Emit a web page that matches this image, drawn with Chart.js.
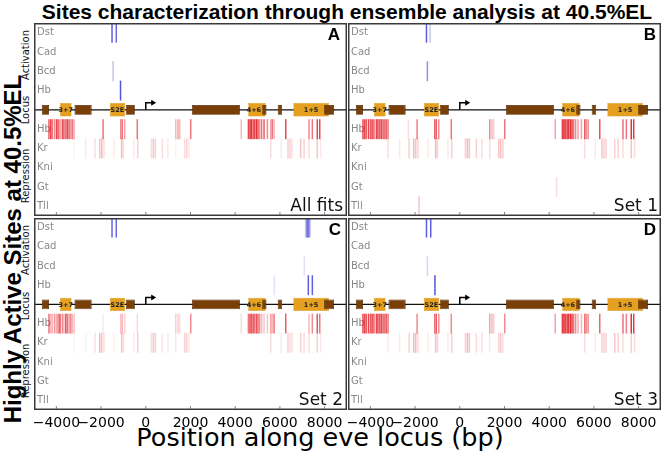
<!DOCTYPE html>
<html>
<head>
<meta charset="utf-8">
<script src="https://cdn.jsdelivr.net/npm/chart.js@4.4.1/dist/chart.umd.min.js"></script>
<style>
body { margin: 0; background: #fff; width: 664px; height: 457px; position: relative; overflow: hidden; font-family: "DejaVu Sans", sans-serif; }
canvas { position: absolute; }
.t { position: absolute; white-space: nowrap; line-height: 1; transform: translate(-50%, -50%); }
.r { transform: translate(-100%, -50%); }
.rot { transform: translate(-50%, -50%) rotate(-90deg); }
.grp { font-size: 10px; color: #111; }
.let { font-family: "Liberation Sans", sans-serif; font-weight: bold; font-size: 17px; }
.set { font-size: 17px; color: #111; }
</style>
</head>
<body>
<div class="t" style="left:347px;top:11px;font-family:'Liberation Sans',sans-serif;font-weight:bold;font-size:21px">Sites characterization through ensemble analysis at 40.5%EL</div>
<div class="t rot" style="left:13px;top:249px;font-family:'Liberation Sans',sans-serif;font-weight:bold;font-size:24px">Highly Active Sites at 40.5%EL</div>
<div class="t" style="left:320px;top:438px;font-size:25.5px">Position along eve locus (bp)</div>

<div class="t rot grp" style="left:26px;top:55px">Activation</div>
<div class="t rot grp" style="left:26px;top:110px">Locus</div>
<div class="t rot grp" style="left:26px;top:176px">Repression</div>
<div class="t rot grp" style="left:26px;top:250px">Activation</div>
<div class="t rot grp" style="left:26px;top:306px">Locus</div>
<div class="t rot grp" style="left:26px;top:371px">Repression</div>

<canvas id="pA" width="313" height="193" style="left:34px;top:23px"></canvas>
<canvas id="pB" width="313" height="193" style="left:348px;top:23px"></canvas>
<canvas id="pC" width="329" height="216" style="left:22px;top:218px"></canvas>
<canvas id="pD" width="329" height="216" style="left:336px;top:218px"></canvas>

<div class="t let" style="left:334px;top:34px">A</div>
<div class="t let" style="left:650px;top:34px">B</div>
<div class="t let" style="left:335px;top:229px">C</div>
<div class="t let" style="left:650px;top:229px">D</div>
<div class="t r set" style="left:343px;top:205px">All fits</div>
<div class="t r set" style="left:658px;top:205px">Set 1</div>
<div class="t r set" style="left:343px;top:399px">Set 2</div>
<div class="t r set" style="left:658px;top:399px">Set 3</div>

<script>
// rows of every panel (top to bottom)
var rowKeys = ['Dst', 'Cad', 'Bcd', 'HbAct', 'Locus', 'Hb', 'Kr', 'Kni', 'Gt', 'Tll'];
var rowNames = ['Dst', 'Cad', 'Bcd', 'Hb', '', 'Hb', 'Kr', 'Kni', 'Gt', 'Tll'];
var xTicks = [-4000, -2000, 0, 2000, 4000, 6000, 8000];

// eve locus structure (bp)
var geneBlocks = [[-4650, -4330], [-3190, -2420], [-900, -490], [2060, 4210], [5210, 5400], [5900, 6100], [7980, 8420]];
var enhancers = [[-3840, -3320], [-1610, -930], [4580, 5360], [6600, 8190]];
var enhancerNames = ['3+7', 'S2E', '4+6', '1+5'];

// Hb repressor sites and their weight in each panel
var hbSites = [-4330, -4250, -4180, -4080, -3990, -3920, -3840, -3730, -3660, -3580, -3510, -3430, -3360, -3290, -3210,
    -2300, -1910, -1120, -1050, -940, -380, 1340, 1440, 1520, 2010, 4270, 4590, 4660, 4720, 4800, 4870, 4950, 5020,
    5090, 5180, 5290, 5440, 5590, 5660, 5740, 6260, 7300, 7450, 7670, 7780];
var hbAlphaA = [0.7, 0.8, 0.6, 0.5, 0.8, 0.7, 0.5, 0.8, 0.7, 0.6, 0.8, 0.7, 0.4, 0.6, 0.4,
    0, 0.6, 0.5, 0.6, 0.4, 0.6, 0.3, 0.4, 0.3, 0.6, 0.3, 0.8, 0.8, 0.9, 0.8, 0.8, 0.9, 0.7,
    0.5, 0.6, 0.7, 0.5, 0.4, 0.6, 0.3, 0.8, 0.5, 0.6, 0.8, 0.8];
var hbAlphaB = [0.8, 0.8, 0.7, 0.8, 0.7, 0.8, 0.7, 0.8, 0.8, 0.7, 0.8, 0.7, 0.6, 0.7, 0.6,
    0.15, 0.55, 0.65, 0.7, 0.5, 0.6, 0.5, 0.3, 0.2, 0.6, 0.4, 0.85, 0.9, 0.8, 0.9, 0.85, 0.9, 0.8,
    0.6, 0.5, 0.4, 0.4, 0.7, 0.45, 0.5, 0.75, 0.6, 0.6, 0.9, 0.85];
var hbAlphaC = [0.6, 0.3, 0.3, 0.45, 0.35, 0.5, 0.8, 0.5, 0.3, 0.7, 0.6, 0.4, 0.5, 0.3, 0.3,
    0, 0.1, 0.25, 0.3, 0.2, 0.15, 0.2, 0.2, 0.15, 0.5, 0.15, 0.6, 0.7, 0.7, 0.8, 0.6, 0.75, 0.6,
    0.5, 0.3, 0.25, 0.25, 0.4, 0.3, 0.6, 0.7, 0.3, 0.5, 0.75, 0.6];
var hbAlphaD = [0.8, 0.8, 0.7, 0.8, 0.7, 0.8, 0.7, 0.8, 0.8, 0.7, 0.8, 0.7, 0.6, 0.7, 0.6,
    0, 0.5, 0.6, 0.7, 0.5, 0.5, 0.4, 0.3, 0.2, 0.5, 0.4, 0.85, 0.9, 0.8, 0.9, 0.85, 0.9, 0.8,
    0.6, 0.5, 0.35, 0.3, 0.6, 0.45, 0.5, 0.65, 0.6, 0.55, 0.9, 0.85];

// Kr repressor sites
var krSites = [-3210, -2690, -2270, -2060, -1970, -1870, -1420, -1080, -1000, -530, -360, 250, 340, 430, 740,
    990, 1340, 1740, 1830, 1930, 5590, 6060, 6360, 6450, 6540, 6930, 7080, 7300, 7670, 7820];
var krAlphaA = [0.05, 0.1, 0.15, 0.25, 0.3, 0.15, 0.1, 0.3, 0.15, 0.1, 0.2, 0.15, 0.25, 0.2, 0.15,
    0.1, 0.05, 0.15, 0.2, 0.1, 0.15, 0.1, 0.2, 0.2, 0.15, 0.25, 0.2, 0.15, 0.25, 0.1];
var krAlphaB = [0.15, 0.1, 0.2, 0.3, 0.25, 0.2, 0.1, 0.3, 0.2, 0.1, 0.2, 0.2, 0.3, 0.25, 0.2,
    0.15, 0.15, 0.25, 0.3, 0.2, 0.15, 0.1, 0.25, 0.2, 0.2, 0.2, 0.2, 0.15, 0.25, 0.15];
var krAlphaC = [0.05, 0.05, 0.15, 0.3, 0.25, 0.15, 0.05, 0.25, 0.15, 0.1, 0.2, 0.15, 0.25, 0.2, 0.1,
    0.1, 0.1, 0.2, 0.2, 0.1, 0.15, 0.1, 0.2, 0.15, 0.15, 0.2, 0.15, 0.15, 0.2, 0.1];
var krAlphaD = [0.1, 0.1, 0.2, 0.3, 0.3, 0.15, 0.1, 0.25, 0.2, 0.1, 0.2, 0.2, 0.3, 0.25, 0.15,
    0.15, 0.1, 0.2, 0.25, 0.15, 0.15, 0.1, 0.2, 0.2, 0.2, 0.25, 0.2, 0.15, 0.2, 0.15];

// other sites: [row, position, weight]
var actA = [['Dst', -1510, 0.8], ['Dst', -1320, 0.75], ['Bcd', -1460, 0.3], ['HbAct', -1130, 0.85]];
var actB = [['Dst', -1490, 0.8], ['Dst', -1330, 0.3], ['Bcd', -1450, 0.55]];
var actC = [['Dst', -1510, 0.75], ['Dst', -1320, 0.75], ['Dst', 7150, 0.3], ['Dst', 7200, 0.5], ['Dst', 7250, 0.7],
    ['Dst', 7300, 0.5], ['Dst', 7350, 0.3], ['Bcd', 7090, 0.15], ['HbAct', 5750, 0.15], ['HbAct', 7270, 0.8], ['HbAct', 7450, 0.8]];
var actD = [['Dst', -1490, 0.8], ['Dst', -1300, 0.8], ['Bcd', -1450, 0.2], ['HbAct', -1110, 0.85]];
var repExtraB = [['Tll', -1820, 0.25], ['Gt', 4330, 0.15]];

var HALF = 19; // half width of a site mark, bp

function siteList(sites, alphas, row) {
    var out = [];
    sites.forEach(function (p, i) {
        if (alphas[i] > 0) out.push([row, p, alphas[i]]);
    });
    return out;
}

function marks(list, rgb) {
    return {
        data: list.map(function (m) { return { x: [m[1] - HALF, m[1] + HALF], y: m[0] }; }),
        backgroundColor: list.map(function (m) { return 'rgba(' + rgb + ',' + m[2] + ')'; }),
        barPercentage: 1,
        categoryPercentage: 1,
        grouped: false
    };
}

var decor = {
    id: 'decor',
    afterDatasetsDraw: function (chart) {
        var ctx = chart.ctx, x = chart.scales.x, y = chart.scales.y;
        var yl = y.getPixelForValue(4);
        // transcription start arrow
        var x0 = x.getPixelForValue(0), x1 = x.getPixelForValue(420);
        ctx.save();
        ctx.strokeStyle = '#000';
        ctx.lineWidth = 1.5;
        ctx.beginPath();
        ctx.moveTo(x0, yl);
        ctx.lineTo(x0, yl - 7);
        ctx.lineTo(x1 - 3, yl - 7);
        ctx.stroke();
        ctx.fillStyle = '#000';
        ctx.beginPath();
        ctx.moveTo(x1 + 1, yl - 7);
        ctx.lineTo(x1 - 4, yl - 10);
        ctx.lineTo(x1 - 4, yl - 4);
        ctx.closePath();
        ctx.fill();
        // enhancer names
        ctx.font = 'bold 6.5px "DejaVu Sans"';
        ctx.textAlign = 'center';
        ctx.textBaseline = 'middle';
        ctx.fillStyle = '#222';
        enhancers.forEach(function (e, i) {
            var cx = (x.getPixelForValue(e[0]) + x.getPixelForValue(e[1])) / 2;
            if (i === 2) cx -= 3;
            ctx.fillText(enhancerNames[i], cx, yl + 0.5);
        });
        ctx.restore();
    },
    afterDraw: function (chart) {
        var ctx = chart.ctx, a = chart.chartArea, x = chart.scales.x;
        ctx.save();
        ctx.strokeStyle = '#3a3a3a';
        ctx.lineWidth = 1.5;
        ctx.strokeRect(a.left + 0.75, a.top + 0.75, a.right - a.left - 1.5, a.bottom - a.top - 1.5);
        ctx.lineWidth = 0.8;
        ctx.strokeStyle = '#666';
        ctx.beginPath();
        xTicks.forEach(function (v) {
            var px = x.getPixelForValue(v);
            ctx.moveTo(px, a.bottom - 1);
            ctx.lineTo(px, a.bottom - 4);
        });
        ctx.stroke();
        ctx.restore();
    }
};

function panel(id, act, rep, withTicks) {
    var datasets = [
        marks(act, '55,55,215'),
        marks(rep, '225,25,35'),
        {
            data: geneBlocks.map(function (b) { return { x: b, y: 'Locus' }; }),
            backgroundColor: '#7a3f06',
            borderColor: '#4a2500',
            borderWidth: 0.8,
            borderSkipped: false,
            barPercentage: 0.5,
            categoryPercentage: 1,
            grouped: false
        },
        {
            data: enhancers.map(function (b) { return { x: b, y: 'Locus' }; }),
            backgroundColor: '#e5a020',
            borderColor: '#c98a10',
            borderWidth: 0.5,
            borderSkipped: false,
            barPercentage: 0.7,
            categoryPercentage: 1,
            grouped: false
        },
        {
            data: [{ x: [-5000, 9000], y: 'Locus' }],
            backgroundColor: '#111',
            barPercentage: 0.06,
            categoryPercentage: 1,
            grouped: false
        }
    ];
    return new Chart(document.getElementById(id), {
        type: 'bar',
        data: { labels: rowKeys, datasets: datasets },
        options: {
            responsive: false,
            animation: false,
            indexAxis: 'y',
            layout: { padding: withTicks ? { left: 12, right: 4, top: 0, bottom: 0 } : 0 },
            plugins: { legend: { display: false }, tooltip: { enabled: false } },
            scales: {
                x: {
                    type: 'linear',
                    min: -5000,
                    max: 9000,
                    display: withTicks,
                    grid: { display: false },
                    border: { display: false },
                    afterBuildTicks: function (s) { s.ticks = xTicks.map(function (v) { return { value: v }; }); },
                    afterFit: function (s) {
                        s.height = withTicks ? 24 : 0;
                        s.paddingTop = 0;
                        s.paddingBottom = 0;
                    },
                    ticks: {
                        autoSkip: false,
                        maxRotation: 0,
                        padding: -3,
                        color: '#000',
                        font: { family: 'DejaVu Sans', size: 14 },
                        callback: function (v) { return String(v).replace('-', '\u2212'); }
                    }
                },
                y: {
                    type: 'category',
                    grid: { display: false },
                    border: { display: false },
                    afterFit: function (s) {
                        s.width = 0;
                        s.paddingTop = 0;
                        s.paddingBottom = 0;
                    },
                    ticks: {
                        mirror: true,
                        padding: 3,
                        autoSkip: false,
                        color: '#888',
                        font: { family: 'DejaVu Sans', size: 10 },
                        callback: function (v, i) { return rowNames[i]; }
                    }
                }
            }
        },
        plugins: [decor]
    });
}

var chartA = panel('pA', actA, siteList(hbSites, hbAlphaA, 'Hb').concat(siteList(krSites, krAlphaA, 'Kr')), false);
var chartB = panel('pB', actB, siteList(hbSites, hbAlphaB, 'Hb').concat(siteList(krSites, krAlphaB, 'Kr'), repExtraB), false);
var chartC = panel('pC', actC, siteList(hbSites, hbAlphaC, 'Hb').concat(siteList(krSites, krAlphaC, 'Kr')), true);
var chartD = panel('pD', actD, siteList(hbSites, hbAlphaD, 'Hb').concat(siteList(krSites, krAlphaD, 'Kr')), true);
</script>
</body>
</html>
